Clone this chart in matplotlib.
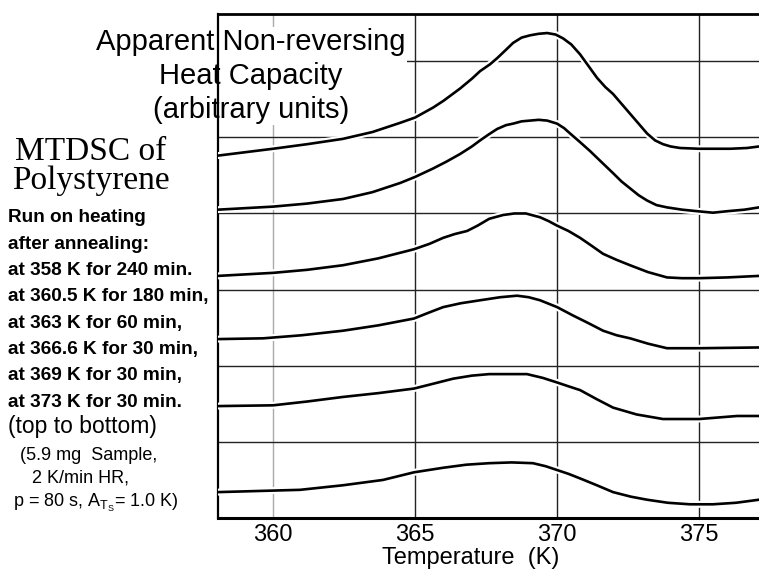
import matplotlib
matplotlib.use('Agg')
import matplotlib.pyplot as plt
import matplotlib.patheffects as pe

plt.rcParams['font.family'] = ['Liberation Sans', 'DejaVu Sans']
plt.rcParams['mathtext.fontset'] = 'custom'
plt.rcParams['mathtext.rm'] = 'Liberation Sans'
plt.rcParams['mathtext.it'] = 'Liberation Sans'

# annealing runs, top to bottom (temperature in K, signal in arbitrary units)
t_358 = [358.06, 360.0, 361.2, 362.46, 363.5, 364.47, 365.0, 365.63, 366.0, 366.58, 367.0, 367.29,
         367.64, 367.89, 368.2, 368.45, 368.75, 369.05, 369.35, 369.65, 369.95, 370.21, 370.5,
         370.81, 371.1, 371.41, 371.7, 371.97, 372.27, 372.57, 372.87, 373.17, 373.45, 373.73,
         374.0, 374.33, 375.0, 375.49, 376.1, 376.69, 377.11]
cp_358 = [4.76, 4.85, 4.91, 4.98, 5.07, 5.19, 5.26, 5.39, 5.48, 5.64, 5.77, 5.87,
          5.96, 6.04, 6.15, 6.24, 6.31, 6.34, 6.36, 6.37, 6.35, 6.30, 6.22,
          6.09, 5.94, 5.78, 5.66, 5.57, 5.44, 5.31, 5.18, 5.05, 4.96, 4.91,
          4.88, 4.86, 4.85, 4.85, 4.85, 4.86, 4.88]

t_360 = [358.06, 360.0, 361.2, 362.46, 363.5, 364.47, 365.0, 365.63, 366.1, 366.58, 367.0, 367.29,
         367.6, 367.89, 368.2, 368.45, 368.75, 369.05, 369.35, 369.65, 370.0, 370.25, 370.46,
         370.8, 371.16, 371.55, 371.97, 372.27, 372.57, 372.87, 373.17, 373.5, 373.87, 374.4,
         374.93, 375.49, 376.0, 376.6, 377.11]
cp_360 = [4.05, 4.09, 4.13, 4.19, 4.28, 4.40, 4.48, 4.59, 4.68, 4.78, 4.88, 4.96,
          5.04, 5.11, 5.16, 5.18, 5.21, 5.22, 5.23, 5.22, 5.18, 5.12, 5.05,
          4.94, 4.82, 4.68, 4.53, 4.42, 4.33, 4.24, 4.17, 4.11, 4.08, 4.05,
          4.03, 4.01, 4.03, 4.05, 4.08]

t_363 = [358.06, 360.0, 361.2, 362.46, 363.7, 364.96, 365.5, 365.99, 366.4, 366.83, 367.2, 367.61,
         368.1, 368.5, 368.9, 369.4, 369.7, 370.0, 370.4, 370.81, 371.2, 371.62, 372.1, 372.57,
         373.2, 373.87, 374.4, 375.0, 376.0, 377.11]
cp_363 = [3.18, 3.22, 3.26, 3.32, 3.41, 3.53, 3.60, 3.68, 3.73, 3.77, 3.84, 3.93,
          3.98, 4.00, 4.00, 3.95, 3.90, 3.84, 3.77, 3.68, 3.58, 3.47, 3.39, 3.32,
          3.23, 3.16, 3.15, 3.15, 3.16, 3.18]

t_366 = [358.06, 359.65, 361.0, 362.46, 363.7, 364.96, 365.5, 365.99, 366.6, 367.29, 368.0, 368.59,
         369.0, 369.4, 370.0, 370.56, 371.1, 371.62, 372.1, 372.57, 373.2, 373.87, 375.0, 377.11]
cp_366 = [2.35, 2.36, 2.40, 2.46, 2.53, 2.62, 2.70, 2.77, 2.82, 2.86, 2.90, 2.92,
          2.90, 2.86, 2.77, 2.66, 2.56, 2.46, 2.40, 2.36, 2.29, 2.23, 2.23, 2.24]

t_369 = [358.06, 360.0, 361.2, 362.46, 363.7, 364.96, 365.6, 366.34, 367.0, 367.61, 368.3, 368.94,
         369.5, 370.0, 370.4, 370.81, 371.4, 371.97, 372.8, 373.73, 375.0, 376.34, 377.11]
cp_369 = [1.47, 1.48, 1.53, 1.59, 1.64, 1.70, 1.76, 1.83, 1.87, 1.89, 1.89, 1.89,
          1.84, 1.78, 1.73, 1.68, 1.56, 1.45, 1.36, 1.30, 1.30, 1.34, 1.34]

t_373 = [358.06, 360.95, 362.46, 363.87, 364.96, 365.99, 366.8, 367.61, 368.4, 369.15, 369.6, 370.0,
         370.4, 370.81, 371.4, 371.97, 372.6, 373.17, 373.9, 374.68, 375.49, 376.3, 377.11]
cp_373 = [0.34, 0.37, 0.43, 0.50, 0.60, 0.66, 0.70, 0.72, 0.73, 0.72, 0.68, 0.63,
          0.58, 0.52, 0.43, 0.34, 0.28, 0.24, 0.20, 0.18, 0.18, 0.20, 0.24]

runs = [(t_358, cp_358), (t_360, cp_360), (t_363, cp_363),
        (t_366, cp_366), (t_369, cp_369), (t_373, cp_373)]

x_ticks = [360, 365, 370, 375]
y_grid = [1, 2, 3, 4, 5, 6]

fig = plt.figure(figsize=(7.59, 5.72), dpi=100)
ax = fig.add_axes([218/759, 54/572, 541/759, 504/572])

for t, cp in runs:
    ax.plot(t, cp, color='black', lw=1.9, zorder=3, solid_joinstyle='round',
            path_effects=[pe.Stroke(linewidth=5, foreground='white'), pe.Normal()])

# grid lines (the 360 K one is lighter in the original)
for x in x_ticks:
    ax.axvline(x, color='#aaaaaa' if x == 360 else '#222222', lw=1.0, zorder=1)
for y in y_grid:
    ax.axhline(y, color='#222222', lw=1.0, zorder=1)

ax.set_xlim(358.06, 377.11)
ax.set_ylim(0, 6.62)
ax.set_xticks(x_ticks)
ax.set_xticklabels([str(v) for v in x_ticks], fontsize=17)
ax.set_yticks([])
ax.tick_params(axis='x', length=0, pad=4)
ax.spines['right'].set_visible(False)
ax.spines['top'].set_linewidth(2)
ax.spines['bottom'].set_linewidth(2.2)
ax.spines['left'].set_linewidth(1.6)

ax.set_xlabel('Temperature  (K)', fontsize=17)
ax.xaxis.set_label_coords(253/541, -40/504)
ax.xaxis.label.set_va('center')

W, H = 759, 572
def fx(px):
    return px / W
def fy(py):
    return 1 - py / H

# title sits on a white box above the grid but below the curves
ax.text(fx(251), fy(76), 'Apparent Non-reversing\nHeat Capacity\n(arbitrary units)',
        transform=fig.transFigure, clip_on=False,
        ha='center', va='center', multialignment='center', fontsize=21, linespacing=1.25,
        zorder=2, bbox=dict(facecolor='white', edgecolor='none', pad=1))

fig.text(fx(91), fy(166), 'MTDSC of\nPolystyrene', ha='center', va='center',
         family='Liberation Serif', fontsize=24, linespacing=0.95)

left_lines = ['Run on heating', 'after annealing:', 'at 358 K for 240 min.',
              'at 360.5 K for 180 min,', 'at 363 K for 60 min,', 'at 366.6 K for 30 min,',
              'at 369 K for 30 min,', 'at 373 K for 30 min.']
for i, s in enumerate(left_lines):
    fig.text(fx(8), fy(218 + i * 26.3), s, ha='left', va='center', fontsize=13.7,
             fontweight='bold')

fig.text(fx(8), fy(426), '(top to bottom)', ha='left', va='center', fontsize=16.5)
fig.text(fx(20), fy(455), '(5.9 mg  Sample,', ha='left', va='center', fontsize=13)
fig.text(fx(32), fy(478), '2 K/min HR,', ha='left', va='center', fontsize=13)
fig.text(fx(13), fy(503), r'p = 80 s, A$_{\mathrm{T}_{\mathrm{S}}}$= 1.0 K)', ha='left',
         va='center', fontsize=13)

plt.savefig('out.png', dpi=100)
